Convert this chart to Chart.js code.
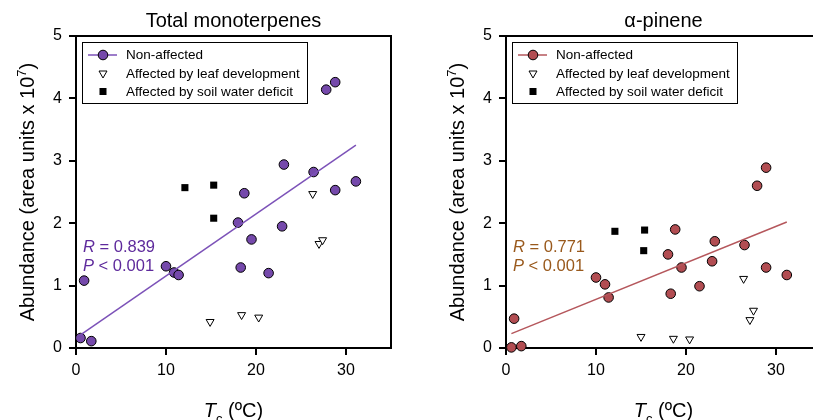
<!DOCTYPE html>
<html>
<head>
<meta charset="utf-8">
<script src="https://cdn.jsdelivr.net/npm/chart.js@4/dist/chart.umd.min.js"></script>
<style>
  html, body { margin: 0; padding: 0; background: #fff; }
  body { width: 813px; height: 420px; overflow: hidden; position: relative; }
  canvas { position: absolute; top: 0; }
  #left { left: 0; }
  #right { left: 430px; }
</style>
</head>
<body>
<canvas id="left" width="430" height="420"></canvas>
<canvas id="right" width="430" height="420"></canvas>
<script>
// Total monoterpenes
const monoTempNon = [0.5, 0.9, 1.7, 10.0, 10.9, 11.4, 18.0, 18.3, 18.7, 19.5, 21.4, 22.9, 23.1, 26.4, 27.8, 28.8, 28.8, 31.1];
const monoNon = [0.16, 1.08, 0.11, 1.31, 1.21, 1.17, 2.01, 1.29, 2.48, 1.74, 1.20, 1.95, 2.94, 2.82, 4.14, 2.53, 4.26, 2.67];
const monoTempLeaf = [14.9, 18.4, 20.3, 26.3, 27.0, 27.4];
const monoLeaf = [0.42, 0.53, 0.49, 2.47, 1.67, 1.73];
const monoTempSoil = [12.1, 15.3, 15.3];
const monoSoil = [2.57, 2.61, 2.08];
const monoFitX = [0.5, 31.1];
const monoFitY = [0.21, 3.25];

// alpha-pinene
const pinTempNon = [0.6, 0.9, 1.7, 10.0, 11.0, 11.4, 18.0, 18.3, 18.8, 19.5, 21.5, 22.9, 23.2, 26.5, 27.9, 28.9, 28.9, 31.2];
const pinNon = [0.01, 0.47, 0.03, 1.13, 1.02, 0.81, 1.50, 0.87, 1.90, 1.29, 0.99, 1.39, 1.71, 1.65, 2.60, 1.29, 2.89, 1.17];
const pinTempLeaf = [15.0, 18.6, 20.4, 26.4, 27.1, 27.5];
const pinLeaf = [0.18, 0.15, 0.14, 1.11, 0.45, 0.60];
const pinTempSoil = [12.1, 15.4, 15.3];
const pinSoil = [1.87, 1.89, 1.56];
const pinFitX = [0.6, 31.2];
const pinFitY = [0.23, 2.02];

const legendLabels = ["Non-affected", "Affected by leaf development", "Affected by soil water deficit"];
const xTicks = [0, 10, 20, 30];

const FONT = "'Liberation Sans', Arial, sans-serif";

function pts(xs, ys) {
  return xs.map((x, i) => ({ x: x, y: ys[i] }));
}

const decor = {
  id: "decor",
  afterDraw(chart, args, o) {
    const ctx = chart.ctx;
    const a = chart.chartArea;
    const midX = (a.left + a.right) / 2;
    ctx.save();
    ctx.fillStyle = "#000";
    ctx.strokeStyle = "#000";

    // frame top / right
    ctx.lineWidth = 2;
    ctx.beginPath();
    ctx.moveTo(a.left, a.top);
    ctx.lineTo(a.right, a.top);
    ctx.lineTo(a.right, a.bottom);
    ctx.stroke();

    // title
    ctx.font = "20px " + FONT;
    ctx.textAlign = "center";
    ctx.textBaseline = "alphabetic";
    ctx.fillText(o.title, midX, 27);

    // y title with superscript
    const yMain = "Abundance (area units x 10";
    ctx.save();
    ctx.translate(34, (a.top + a.bottom) / 2);
    ctx.rotate(-Math.PI / 2);
    ctx.font = "20px " + FONT;
    const w1 = ctx.measureText(yMain).width;
    const w3 = ctx.measureText(")").width;
    ctx.font = "13px " + FONT;
    const w2 = ctx.measureText("7").width;
    let x0 = -(w1 + w2 + w3) / 2;
    ctx.textAlign = "left";
    ctx.font = "20px " + FONT;
    ctx.fillText(yMain, x0, 0);
    ctx.font = "13px " + FONT;
    ctx.fillText("7", x0 + w1, -8);
    ctx.font = "20px " + FONT;
    ctx.fillText(")", x0 + w1 + w2, 0);
    ctx.restore();

    // x title  T_c (ºC)
    ctx.textAlign = "left";
    ctx.font = "italic 20px " + FONT;
    const wT = ctx.measureText("T").width;
    ctx.font = "13px " + FONT;
    const wc = ctx.measureText("c").width;
    ctx.font = "20px " + FONT;
    const wr = ctx.measureText(" (ºC)").width;
    let xs = midX - (wT + wc + wr) / 2;
    ctx.font = "italic 20px " + FONT;
    ctx.fillText("T", xs, 417);
    ctx.font = "13px " + FONT;
    ctx.fillText("c", xs + wT, 423);
    ctx.font = "20px " + FONT;
    ctx.fillText(" (ºC)", xs + wT + wc, 417);

    // legend box
    const lx = a.left + 6, ly = a.top + 6;
    ctx.lineWidth = 1;
    ctx.strokeRect(lx + 0.5, ly + 0.5, 225, 61);
    ctx.font = "13.5px " + FONT;
    ctx.textBaseline = "middle";
    const rows = [ly + 13, ly + 31.5, ly + 49.5];
    // row 1: line + circle
    ctx.strokeStyle = o.lineColor;
    ctx.lineWidth = 1.5;
    ctx.beginPath();
    ctx.moveTo(lx + 6, rows[0]);
    ctx.lineTo(lx + 35, rows[0]);
    ctx.stroke();
    ctx.fillStyle = o.fill;
    ctx.strokeStyle = "#000";
    ctx.lineWidth = 1;
    ctx.beginPath();
    ctx.arc(lx + 21, rows[0], 4.8, 0, Math.PI * 2);
    ctx.fill();
    ctx.stroke();
    // row 2: down triangle
    ctx.fillStyle = "#fff";
    ctx.beginPath();
    ctx.moveTo(lx + 21 - 4, rows[1] - 2.5);
    ctx.lineTo(lx + 21 + 4, rows[1] - 2.5);
    ctx.lineTo(lx + 21, rows[1] + 4.5);
    ctx.closePath();
    ctx.fill();
    ctx.stroke();
    // row 3: square
    ctx.fillStyle = "#000";
    ctx.fillRect(lx + 21 - 3.5, rows[2] - 3.5, 7, 7);
    legendLabels.forEach((t, i) => ctx.fillText(t, lx + 44, rows[i] + 0.5));

    // R / P
    ctx.fillStyle = o.statColor;
    ctx.textBaseline = "alphabetic";
    const sx = a.left + 7;
    const lines = [["R", " = " + o.r], ["P", " < 0.001"]];
    const bases = [252, 271];
    lines.forEach((l, i) => {
      ctx.font = "italic 16.5px " + FONT;
      ctx.fillText(l[0], sx, bases[i]);
      const w = ctx.measureText(l[0]).width;
      ctx.font = "16.5px " + FONT;
      ctx.fillText(l[1], sx + w, bases[i]);
    });
    ctx.restore();
  }
};

function makePanel(id, p) {
  new Chart(document.getElementById(id), {
    type: "scatter",
    data: {
      datasets: [
        {
          type: "line",
          data: pts(p.fitX, p.fitY),
          borderColor: p.lineColor,
          borderWidth: 1.5,
          pointRadius: 0,
          fill: false,
          clip: false
        },
        {
          data: pts(p.tNon, p.non),
          pointStyle: "circle",
          pointRadius: 4.8,
          backgroundColor: p.fill,
          borderColor: "#000",
          borderWidth: 1,
          clip: false
        },
        {
          data: pts(p.tLeaf, p.leaf),
          pointStyle: "triangle",
          rotation: 180,
          pointRadius: 4.6,
          backgroundColor: "#fff",
          borderColor: "#000",
          borderWidth: 1,
          clip: false
        },
        {
          data: pts(p.tSoil, p.soil),
          pointStyle: "rect",
          pointRadius: 5,
          backgroundColor: "#000",
          borderColor: "#000",
          borderWidth: 0,
          clip: false
        }
      ]
    },
    options: {
      responsive: false,
      animation: false,
      layout: { padding: { top: 36, right: 39, left: 0, bottom: 0 } },
      plugins: {
        legend: { display: false },
        tooltip: { enabled: false },
        decor: p
      },
      scales: {
        x: {
          type: "linear",
          min: 0,
          max: 35,
          afterBuildTicks: s => { s.ticks = xTicks.map(v => ({ value: v })); },
          afterFit: s => { s.height = 72; },
          border: { display: true, color: "#000", width: 2 },
          grid: { display: true, drawOnChartArea: false, drawTicks: true, tickLength: 7, color: "#000", lineWidth: 2 },
          ticks: { color: "#000", font: { family: FONT, size: 16 }, padding: 6, maxRotation: 0 }
        },
        y: {
          min: 0,
          max: 5,
          afterFit: s => { s.width = 76; },
          border: { display: true, color: "#000", width: 2 },
          grid: { display: true, drawOnChartArea: false, drawTicks: true, tickLength: 7, color: "#000", lineWidth: 2 },
          ticks: { stepSize: 1, color: "#000", font: { family: FONT, size: 16 }, padding: 7 }
        }
      }
    },
    plugins: [decor]
  });
}

makePanel("left", {
  title: "Total monoterpenes",
  tNon: monoTempNon, non: monoNon,
  tLeaf: monoTempLeaf, leaf: monoLeaf,
  tSoil: monoTempSoil, soil: monoSoil,
  fitX: monoFitX, fitY: monoFitY,
  fill: "#7549ab", lineColor: "#7c52b8", statColor: "#5e2a9c", r: "0.839"
});

makePanel("right", {
  title: "\u03b1-pinene",
  tNon: pinTempNon, non: pinNon,
  tLeaf: pinTempLeaf, leaf: pinLeaf,
  tSoil: pinTempSoil, soil: pinSoil,
  fitX: pinFitX, fitY: pinFitY,
  fill: "#b24d52", lineColor: "#b5575c", statColor: "#99591c", r: "0.771"
});
</script>
</body>
</html>
